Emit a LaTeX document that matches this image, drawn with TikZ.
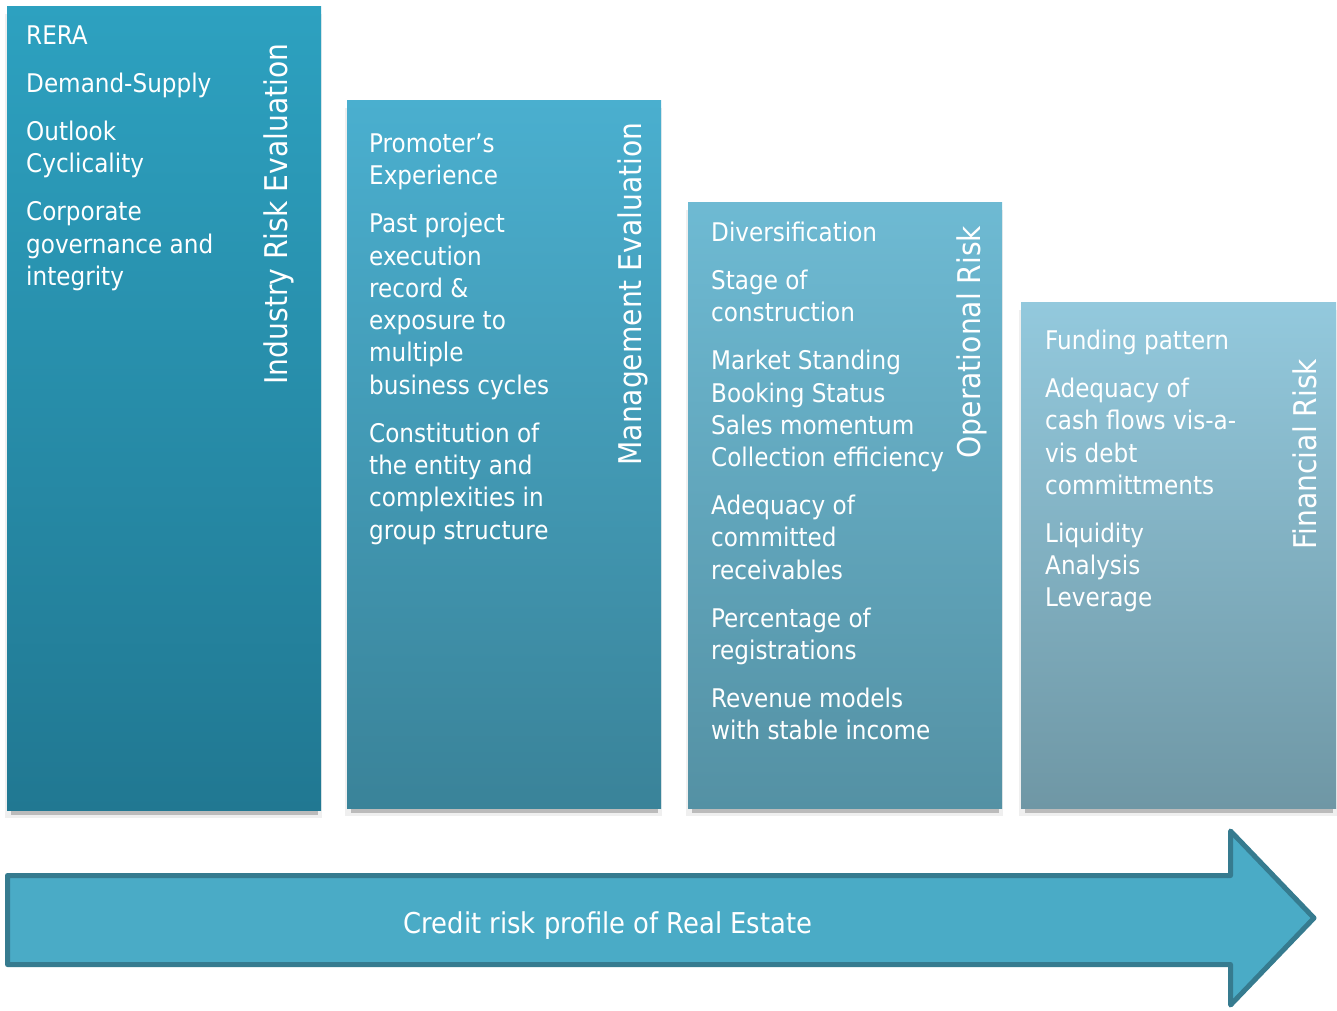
\documentclass[tikz,border=0pt]{standalone}
\usepackage{fontspec}
\setmainfont{DejaVu Sans Condensed}
\begin{document}
\begin{tikzpicture}[x=1pt,y=-1pt,
  shadowlight/.style={fill=shadeA},
  shadowdark/.style={fill=shadeB},
  itemtext/.style={anchor=north west,inner sep=0pt,align=left,text=white,
    font=\fontsize{25.7}{32.3}\selectfont},
  pillartitle/.style={rotate=90,anchor=base,inner sep=0pt,text=white,
    font=\fontsize{31.3}{36}\selectfont},
  bigarrow/.style={fill=arrowfill,draw=arrowline,line width=5pt,line join=round}]
\definecolor{shadeA}{HTML}{EFEFEF}
\definecolor{shadeB}{HTML}{BBBBBB}
\definecolor{arrowfill}{HTML}{4AABC6}
\definecolor{arrowline}{HTML}{367B8F}
\definecolor{aTop}{HTML}{2DA1C0}\definecolor{aBot}{HTML}{217892}
\definecolor{bTop}{HTML}{4AAFCF}\definecolor{bBot}{HTML}{3A8399}
\definecolor{cTop}{HTML}{6EBAD3}\definecolor{cBot}{HTML}{5491A4}
\definecolor{dTop}{HTML}{93C9DD}\definecolor{dBot}{HTML}{6F97A5}
\useasboundingbox (0,0) rectangle (1337,1010);
\fill[white] (0,0) rectangle (1337,1010);

% pillars: soft shadow, then the gradient body
\foreach \l/\t/\r/\b/\ct/\cb in {7/6/321/810/aTop/aBot, 347/100/661/808/bTop/bBot,
    688/202/1002/808/cTop/cBot, 1021/302/1336/808/dTop/dBot}{
  \fill[shadowlight] (\l-2,\t+8) rectangle (\r+1,\b+8);
  \fill[shadowdark] (\l+4,\b) rectangle (\r-3,\b+5);
  \shade[top color=\ct,bottom color=\cb] (\l,\t) rectangle (\r,\b);
}

% column 1
\node[itemtext] (t1) at (26,21.6) {\strut RERA\\[15.7pt]
Demand-Supply\\[15.7pt]
Outlook\\Cyclicality\\[15.7pt]
Corporate\\governance and\\integrity};
\node[pillartitle] (h1) at (287,214) {Industry Risk Evaluation};

% column 2
\node[itemtext] (t2) at (369,129.6) {\strut Promoter’s\\Experience\\[15.7pt]
Past project\\execution\\record \&\\exposure to\\multiple\\business cycles\\[15.7pt]
Constitution of\\the entity and\\complexities in\\group structure};
\node[pillartitle] (h2) at (641,294) {Management Evaluation};

% column 3
\node[itemtext] (t3) at (711,218.6) {\strut Diversification\\[15.7pt]
Stage of\\construction\\[15.7pt]
Market Standing\\Booking Status\\Sales momentum\\Collection efficiency\\[15.7pt]
Adequacy of\\committed\\receivables\\[15.7pt]
Percentage of\\registrations\\[15.7pt]
Revenue models\\with stable income};
\node[pillartitle] (h3) at (980,342) {Operational Risk};

% column 4
\node[itemtext] (t4) at (1045,326.6) {\strut Funding pattern\\[15.7pt]
Adequacy of\\cash flows vis-a-\\vis debt\\committments\\[15.7pt]
Liquidity\\Analysis\\Leverage};
\node[pillartitle] (h4) at (1316,454) {Financial Risk};

% block arrow along the bottom
\coordinate (aTL) at (7.5,875.5);
\coordinate (aHT) at (1230.5,831);
\coordinate (aTip) at (1314,918);
\coordinate (aHB) at (1230.5,1005);
\coordinate (aBL) at (7.5,964.5);
\draw[bigarrow] (aTL) -- (aHT |- aTL) -- (aHT) -- (aTip) -- (aHB)
  -- (aHB |- aBL) -- (aBL) -- cycle;
\node[inner sep=0pt,anchor=base,text=white,font=\fontsize{28.7}{34}\selectfont]
  (cap) at (608,933) {Credit risk profile of Real Estate};
\end{tikzpicture}
\end{document}
